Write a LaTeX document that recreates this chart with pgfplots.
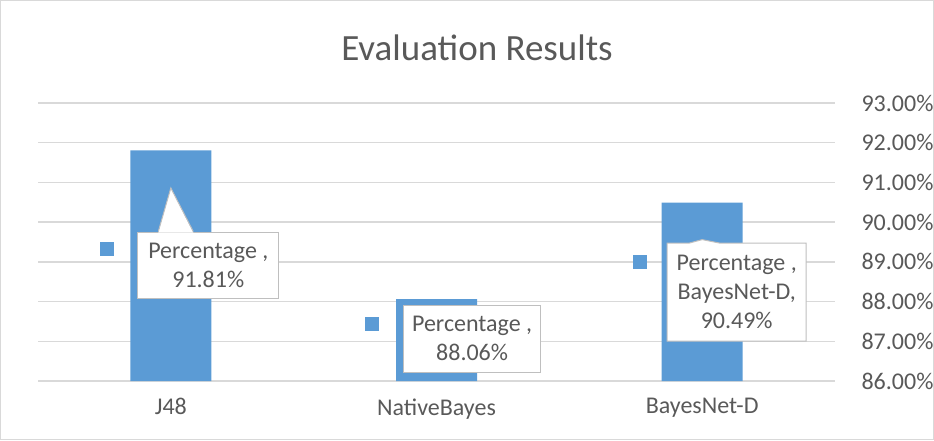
\documentclass[border=0pt]{standalone}
\usepackage{pgfplots}
\pgfplotsset{compat=1.18}
\usepackage{fontspec}
\setmainfont{Carlito}
\usetikzlibrary{shapes.callouts,calc}
\definecolor{barblue}{HTML}{5B9BD5}
\definecolor{txt}{HTML}{595959}
\definecolor{gridc}{HTML}{D9D9D9}
\definecolor{boxc}{HTML}{BFBFBF}
\begin{document}
\begin{tikzpicture}[x=1pt,y=1pt]
\useasboundingbox (0,0) rectangle (934,440);
\draw[gridc,line width=1pt] (0.5,0.5) rectangle (933.5,439.5);
\node[text=txt,font=\fontsize{37}{44}\selectfont] at (477,392) {Evaluation Results};
\begin{axis}[
  at={(38pt,59pt)}, anchor=south west,
  scale only axis, width=797pt, height=278pt,
  xmin=-0.5, xmax=2.5, ymin=86, ymax=93,
  clip mode=individual,
  axis line style={draw=none},
  ymajorgrids, grid style={gridc,line width=1.3pt},
  major tick length=0pt,
  xtick={0,1,2}, xticklabels={J48,NativeBayes,BayesNet-D},
  ytick={86,87,88,89,90,91,92,93},
  yticklabels={86.00\%,87.00\%,88.00\%,89.00\%,90.00\%,91.00\%,92.00\%,93.00\%},
  yticklabel pos=right,
  yticklabel style={anchor=west,xshift=23pt,text=txt,font=\fontsize{24}{28}\selectfont},
  xticklabel style={text=txt,font=\fontsize{24}{28}\selectfont,yshift=-14pt},
]
\addplot[ybar, bar width=81pt, fill=barblue, draw=none] coordinates {(0,91.81) (1,88.06) (2,90.49)};
\node[rectangle, draw=boxc, line width=1pt, fill=white, text=txt, font=\fontsize{24}{29}\selectfont,
  minimum width=141pt, minimum height=66pt, align=center, inner sep=2pt] (b1)
  at (axis cs:0.141,88.92) {Percentage ,\\91.81\%};
\fill[white] ($(b1.north west)+(21pt,-1pt)$) -- (axis cs:0,90.86) -- ($(b1.north west)+(56pt,-1pt)$) -- cycle;
\draw[boxc,line width=1pt] ($(b1.north west)+(21pt,0pt)$) -- (axis cs:0,90.86) -- ($(b1.north west)+(56pt,0pt)$);
\node[rectangle, draw=boxc, line width=1pt, fill=white, text=txt, font=\fontsize{24}{29}\selectfont,
  minimum width=137pt, minimum height=67pt, align=center, inner sep=2pt] (b2)
  at (axis cs:1.134,87.07) {Percentage ,\\88.06\%};
\node[rectangle callout, callout absolute pointer={(axis cs:2,89.56)}, callout pointer width=30pt,
  draw=boxc, line width=1pt, fill=white, text=txt, font=\fontsize{24}{29}\selectfont,
  minimum width=139pt, minimum height=98pt, align=center, inner sep=2pt] (b3)
  at (axis cs:2.13,88.24) {Percentage ,\\BayesNet-D,\\90.49\%};
\fill[barblue] ($(b1.north west)+(-37pt,-24pt)$) rectangle +(14pt,14pt);
\fill[barblue] ($(b2.north west)+(-38pt,-26pt)$) rectangle +(14pt,14pt);
\fill[barblue] ($(b3.north west)+(-34pt,-26pt)$) rectangle +(14pt,14pt);
\end{axis}
\end{tikzpicture}
\end{document}
